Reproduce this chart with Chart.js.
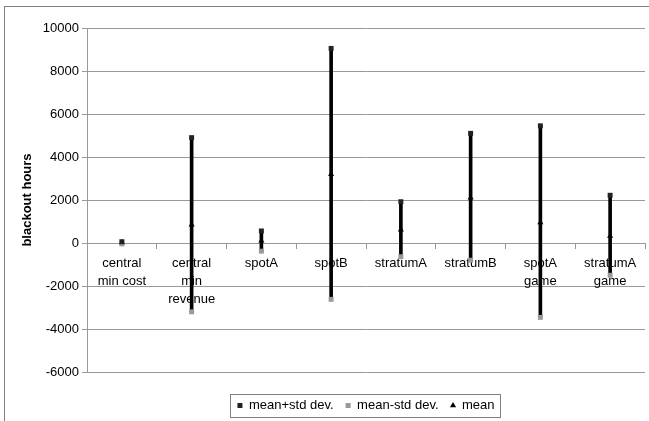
<!DOCTYPE html>
<html lang="en">
<head>
    <meta charset="UTF-8">
    <title>Blackout hours</title>
    <script src="https://cdn.jsdelivr.net/npm/chart.js"></script>
    <style>
        html, body { margin: 0; padding: 0; background: #fff; overflow: hidden; }
        .wrap { position: relative; width: 649px; height: 421px; }
        .frame { position: absolute; left: 4px; top: 6px; width: 700px; height: 500px; border: 1px solid #808080; pointer-events: none; }
        canvas { position: absolute; left: 0; top: 0; }
    </style>
</head>
<body>
    <div class="wrap">
        <canvas id="chart" width="649" height="421"></canvas>
        <div class="frame"></div>
    </div>

    <script>
        // data
        const categories = [['central', 'min cost'], ['central', 'min', 'revenue'], 'spotA', 'spotB', 'stratumA', 'stratumB', ['spotA', 'game'], ['stratumA', 'game']];
        const meanPlusStd = [60, 4900, 560, 9050, 1920, 5100, 5450, 2220];
        const meanMinusStd = [-40, -3200, -380, -2620, -640, -800, -3460, -1500];
        const meanValues = [10, 850, 100, 3200, 620, 2100, 950, 330];
        const yTicks = [10000, 8000, 6000, 4000, 2000, 0, -2000, -4000, -6000];

        const ranges = meanMinusStd.map((lo, i) => [lo, meanPlusStd[i]]);
        const FONT = 'Liberation Sans, Arial, sans-serif';

        // draws a thin box round the legend, like the original
        const legendBox = {
            id: 'legendBox',
            afterDraw(chart) {
                const lg = chart.legend;
                if (!lg || !lg.legendItems.length) return;
                const hb = lg.legendHitBoxes;
                let l = Infinity, r = -Infinity, t = Infinity, b = -Infinity;
                hb.forEach(h => { l = Math.min(l, h.left); r = Math.max(r, h.left + h.width); t = Math.min(t, h.top); b = Math.max(b, h.top + h.height); });
                const cy = (t + b) / 2;
                const ctx = chart.ctx;
                ctx.save();
                ctx.strokeStyle = '#808080';
                ctx.lineWidth = 1;
                ctx.strokeRect(Math.round(l - 7) + 0.5, Math.round(cy - 11.5) + 0.5, Math.round(r - l + 13), 23);
                ctx.restore();
            }
        };

        new Chart(document.getElementById('chart'), {
            type: 'bar',
            data: {
                labels: categories,
                datasets: [
                    { type: 'line', label: 'mean+std dev.', data: meanPlusStd, showLine: false, pointStyle: 'rect', pointRadius: 3.5, backgroundColor: '#222', borderColor: '#222', borderWidth: 0 },
                    { type: 'line', label: 'mean-std dev.', data: meanMinusStd, showLine: false, pointStyle: 'rect', pointRadius: 3.5, backgroundColor: '#999', borderColor: '#999', borderWidth: 0 },
                    { type: 'line', label: 'mean', data: meanValues, showLine: false, pointStyle: 'triangle', pointRadius: 3.5, backgroundColor: '#000', borderColor: '#000', borderWidth: 0 },
                    { type: 'bar', label: 'range', data: ranges, backgroundColor: '#000', borderWidth: 0, barThickness: 3 }
                ]
            },
            options: {
                responsive: false,
                animation: false,
                layout: { padding: { top: 28, right: 4, left: 0, bottom: -1 } },
                plugins: {
                    tooltip: { enabled: false },
                    legend: {
                        position: 'bottom',
                        fullSize: false,
                        title: { display: true, text: ' ', padding: { top: 0, bottom: 5 }, font: { size: 10, lineHeight: 1 } },
                        labels: {
                            filter: item => item.text !== 'range',
                            usePointStyle: true,
                            boxWidth: 5, boxHeight: 5,
                            padding: 12,
                            color: '#000',
                            font: { family: FONT, size: 13 }
                        }
                    }
                },
                scales: {
                    x: {
                        position: { y: 0 },
                        offset: true,
                        grid: { offset: true, drawOnChartArea: false, drawTicks: true, tickLength: 5, color: '#999' },
                        border: { color: '#999' },
                        ticks: { color: '#000', maxRotation: 0, autoSkip: false, padding: 6, font: { family: FONT, size: 13, lineHeight: 1.4 } }
                    },
                    y: {
                        min: -6000, max: 10000,
                        afterBuildTicks: s => { s.ticks = yTicks.map(v => ({ value: v })); },
                        afterFit: s => { s.width = 87; },
                        grid: { color: '#999', tickLength: 5 },
                        border: { color: '#999' },
                        ticks: { color: '#000', padding: 3, font: { family: FONT, size: 13 }, callback: v => String(v) },
                        title: { display: true, text: 'blackout hours', color: '#000', padding: { top: 20, bottom: 0 }, font: { family: FONT, size: 13, weight: 'bold' } }
                    }
                }
            },
            plugins: [legendBox]
        });
    </script>
</body>
</html>
